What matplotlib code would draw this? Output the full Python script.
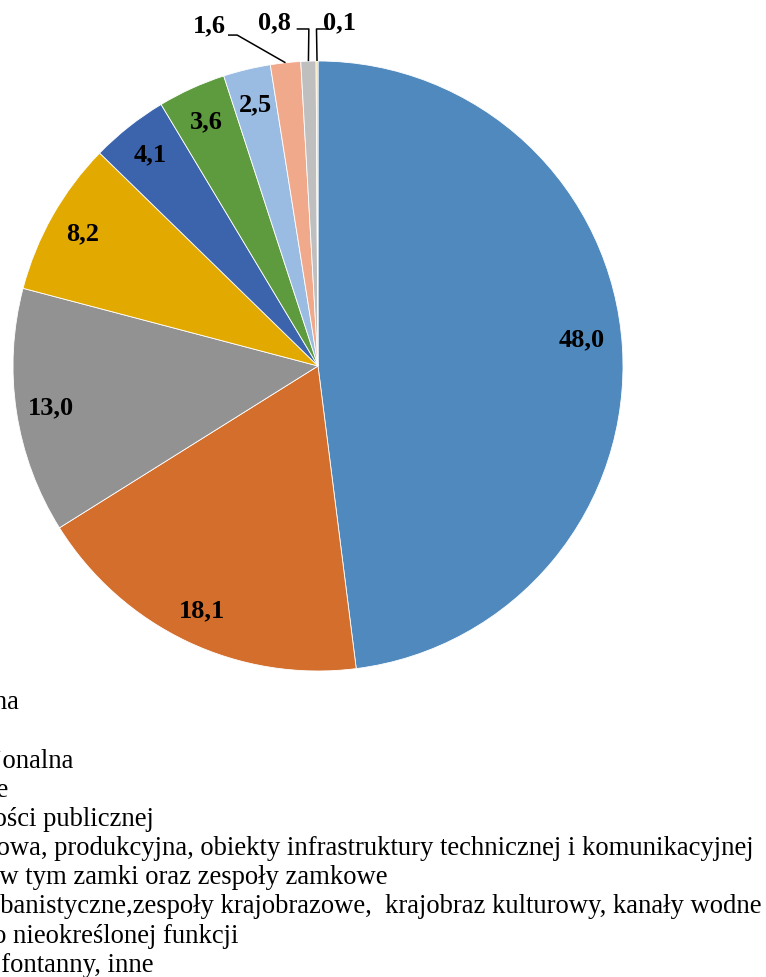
import numpy as np
import matplotlib.pyplot as plt

plt.rcParams['font.family'] = ['Liberation Serif', 'DejaVu Serif']

# data: udział procentowy wg funkcji
values = [48.0, 18.1, 13.0, 8.2, 4.1, 3.6, 2.5, 1.6, 0.8, 0.1]
labels = [
    "mieszkalna",
    "sakralna",
    "rezydencjonalna",
    "cmentarze",
    "użyteczności publicznej",
    "przemysłowa, produkcyjna, obiekty infrastruktury technicznej i komunikacyjnej",
    "obronna, w tym zamki oraz zespoły zamkowe",
    "układy urbanistyczne,zespoły krajobrazowe,  krajobraz kulturowy, kanały wodne",
    "budynki o nieokreślonej funkcji",
    "pomniki, fontanny, inne",
]
colors = ['#4F89BD', '#D36E2C', '#929292', '#E2A900', '#3C64AD',
          '#5E9B3E', '#9ABCE3', '#F1A98B', '#BFBFBF', '#F6CF7A']

W, H = 766, 978
fig = plt.figure(figsize=(W / 100, H / 100), dpi=100)

# pie centre (318, 367) px from top-left, radius 305 px
cx, cy, R = 318, 367, 305
ax = fig.add_axes([(cx - R) / W, (H - cy - R) / H, 2 * R / W, 2 * R / H])

txt = [f"{v:.1f}".replace('.', ',') for v in values]
n_out = 3
inner = txt[:-n_out] + [''] * n_out
wedges, texts = ax.pie(values, colors=colors, startangle=90, counterclock=False,
                       labels=inner, labeldistance=0.885,
                       wedgeprops=dict(edgecolor='white', linewidth=0.6))
for t in texts:
    t.set_ha('center')
    t.set_va('center')
    t.set_fontsize(19)
    t.set_fontweight('bold')
# Excel "best fit" nudges the big label a little up
x0, y0 = texts[0].get_position()
texts[0].set_position((x0 - 0.02, y0 + 0.035))
ax.set_xlim(-1, 1)
ax.set_ylim(-1, 1)
ax.set_aspect('auto')

# outside labels for the three smallest slices (text pos, elbow, line start)
out_text = [(-0.357, 1.12), (-0.144, 1.13), (0.072, 1.13)]
out_elbow = [(-0.265, 1.085), (-0.03, 1.105), (-0.005, 1.105)]
out_side = [(-0.295, 1.085), (-0.07, 1.105), (0.035, 1.105)]
for k in range(n_out):
    w = wedges[len(values) - n_out + k]
    th = np.deg2rad((w.theta1 + w.theta2) / 2)
    ex, ey = np.cos(th), np.sin(th)
    sx, sy = out_side[k]
    bx, by = out_elbow[k]
    ax.plot([sx, bx, ex], [sy, by, ey], color='black', lw=1.1,
            clip_on=False, solid_capstyle='butt')
    ax.text(out_text[k][0], out_text[k][1], txt[len(values) - n_out + k],
            ha='center', va='center', fontsize=19, fontweight='bold')

leg = fig.legend(wedges, labels, loc='upper left', bbox_to_anchor=(0, 0.3),
                 frameon=False, fontsize=19.2, labelspacing=0.155,
                 handlelength=0.6, handleheight=0.6, handletextpad=0.4,
                 borderpad=0, borderaxespad=0)

# shift the legend so that it sits where the reference shows it (partly off-page)
fig.canvas.draw()
r = fig.canvas.get_renderer()
e4 = leg.get_texts()[4].get_window_extent(r)
e0 = leg.get_texts()[0].get_window_extent(r)
dx = 154 - e4.x1
dy = (H - 703) - (e0.y0 + e0.y1) / 2
leg.set_bbox_to_anchor((dx / W, 0.3 + dy / H))

fig.savefig('out.png', dpi=100)
